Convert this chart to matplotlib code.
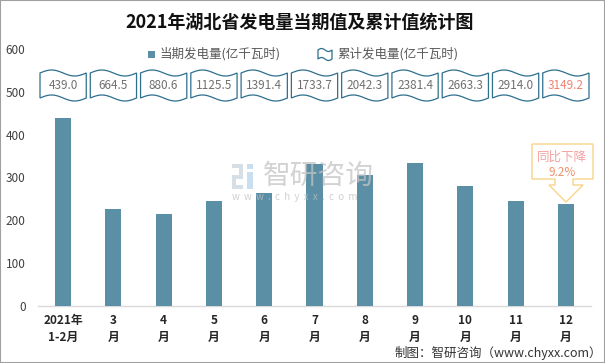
import numpy as np
import matplotlib
matplotlib.use("Agg")
import matplotlib.pyplot as plt
from matplotlib.patches import Polygon, Rectangle
from matplotlib.transforms import blended_transform_factory

plt.rcParams['font.family'] = ['Noto Sans CJK SC', 'DejaVu Sans']

categories = ["2021年\n1-2月", "3\n月", "4\n月", "5\n月", "6\n月", "7\n月",
              "8\n月", "9\n月", "10\n月", "11\n月", "12\n月"]
monthly = [439.0, 225.5, 214.0, 244.0, 263.0, 331.0, 305.0, 334.0, 279.0, 244.0, 237.0]
cumulative = ["439.0", "664.5", "880.6", "1125.5", "1391.4", "1733.7",
              "2042.3", "2381.4", "2663.3", "2914.0", "3149.2"]
yticks = [0, 100, 200, 300, 400, 500, 600]

W, H = 605, 363
fig = plt.figure(figsize=(W / 100, H / 100), dpi=100)
fig.patch.set_facecolor("white")
fig.patches.append(Rectangle((0, 0), 1, 1, transform=fig.transFigure, fill=False,
                             edgecolor="#a0a0a0", linewidth=1.5))

ax = fig.add_axes([38 / W, 57 / H, (591 - 38) / W, (306 - 49) / H])
x = np.arange(len(categories))
bar_color = "#5b8fa6"
ax.bar(x, monthly, width=0.32, color=bar_color, zorder=3)
ax.set_xlim(-0.5, len(categories) - 0.5)
ax.set_ylim(0, 600)
ax.set_yticks(yticks)
ax.set_yticklabels([str(v) for v in yticks], fontsize=8.5, color="#404040")
ax.set_xticks(x)
ax.set_xticklabels(categories, fontsize=8.5, fontweight="bold", color="#262626",
                   linespacing=1.35)
ax.tick_params(axis="y", length=0, pad=9)
ax.tick_params(axis="x", length=0, pad=6)
for s in ["top", "right", "left"]:
    ax.spines[s].set_visible(False)
ax.spines["bottom"].set_color("#d9d9d9")
ax.spines["bottom"].set_linewidth(1.0)

# title
fig.text(300 / W, 1 - 22 / H, "2021年湖北省发电量当期值及累计值统计图",
         ha="center", va="center", fontsize=13, fontweight="bold", color="#111111")

# legend
flag_col = "#2e6f8e"
fig.patches.append(Rectangle((148 / W, 1 - 58 / H), 7 / W, 7 / H, transform=fig.transFigure,
                             facecolor=bar_color, edgecolor="none"))
fig.text(160 / W, 1 - 54 / H, "当期发电量(亿千瓦时)", ha="left", va="center",
         fontsize=9, color="#595959")
t = np.linspace(0, 1, 40)
lx0, lx1, ly0, ly1 = 318, 332, 1 - 59 / H, 1 - 50 / H
amp = 1.5 / H
topl = [((lx0 + (lx1 - lx0) * tt) / W, ly1 + amp * np.sin(2 * np.pi * tt)) for tt in t]
botl = [((lx0 + (lx1 - lx0) * tt) / W, ly0 + amp * np.sin(2 * np.pi * tt)) for tt in t[::-1]]
fig.patches.append(Polygon(topl + botl, closed=True, transform=fig.transFigure,
                           facecolor="white", edgecolor=flag_col, linewidth=0.9))
fig.text(337 / W, 1 - 54 / H, "累计发电量(亿千瓦时)", ha="left", va="center",
         fontsize=9, color="#595959")

# cumulative flags
trans = blended_transform_factory(ax.transData, fig.transFigure)
fw = 0.46
ftop, fbot = 1 - 73 / H, 1 - 98 / H
famp = 3.0 / H
for i, lab in enumerate(cumulative):
    xs = i - fw + 2 * fw * t
    top = list(zip(xs, ftop + famp * np.sin(2 * np.pi * t)))
    bot = list(zip(xs[::-1], (fbot + famp * np.sin(2 * np.pi * t))[::-1]))
    fig.patches.append(Polygon(top + bot, closed=True, transform=trans,
                               facecolor="white", edgecolor=flag_col, linewidth=0.9))
    col = "#f08070" if i == len(cumulative) - 1 else "#707070"
    fig.text(i, (ftop + fbot) / 2, lab, transform=trans, ha="center", va="center",
             fontsize=8.5, color=col)

# watermark
wm_alpha = 0.75
for (px, py, pw, ph, c) in [(232, 164, 11, 4, "#c9d3de"), (239, 168, 4, 7, "#c9d3de"),
                            (232, 175, 11, 4, "#c9d3de"), (232, 179, 4, 6, "#c9d3de"),
                            (232, 185, 11, 4, "#c9d3de"), (247, 164, 6, 5, "#b8d4ea"),
                            (247, 172, 6, 17, "#b8d4ea")]:
    fig.patches.append(Rectangle((px / W, 1 - (py + ph) / H), pw / W, ph / H,
                                 transform=fig.transFigure, facecolor=c,
                                 edgecolor="none", alpha=wm_alpha, zorder=5))
fig.text(263 / W, 1 - 176 / H, "智研咨询", ha="left", va="center", fontsize=20,
         color="#c4c4c4", alpha=wm_alpha, zorder=5)
fig.text(232 / W, 1 - 197 / H, "w  w  w  .  c  h  y  x  x  .  c  o  m", ha="left",
         va="center", fontsize=7, color="#c0c0c0", alpha=wm_alpha, zorder=5)

# callout
bx0, bx1, by0, by1 = 532, 593, 179, 144
sx0, sx1, sy = 555, 573, 185
hx0, hx1, tipx, tipy = 549, 583, 566, 202
pts = [(bx0, by1), (bx1, by1), (bx1, by0), (sx1, by0), (sx1, sy), (hx1, sy),
       (tipx, tipy), (hx0, sy), (sx0, sy), (sx0, by0), (bx0, by0)]
pts = [(px / W, 1 - py / H) for px, py in pts]
fig.patches.append(Polygon(pts, closed=True, transform=fig.transFigure,
                           facecolor="white", edgecolor="#f9d38a", linewidth=1.0, zorder=6))
fig.text(562 / W, 1 - 157 / H, "同比下降", ha="center", va="center", fontsize=9,
         color="#f4a0a0", zorder=7)
fig.text(562 / W, 1 - 172 / H, "9.2%", ha="center", va="center", fontsize=8.5,
         color="#f0906a", zorder=7)

# footer
fig.text(602 / W, 1 - 353 / H, "制图：智研咨询（www.chyxx.com）", ha="right", va="center",
         fontsize=9, color="#333333")

fig.savefig("out.png", dpi=100)
